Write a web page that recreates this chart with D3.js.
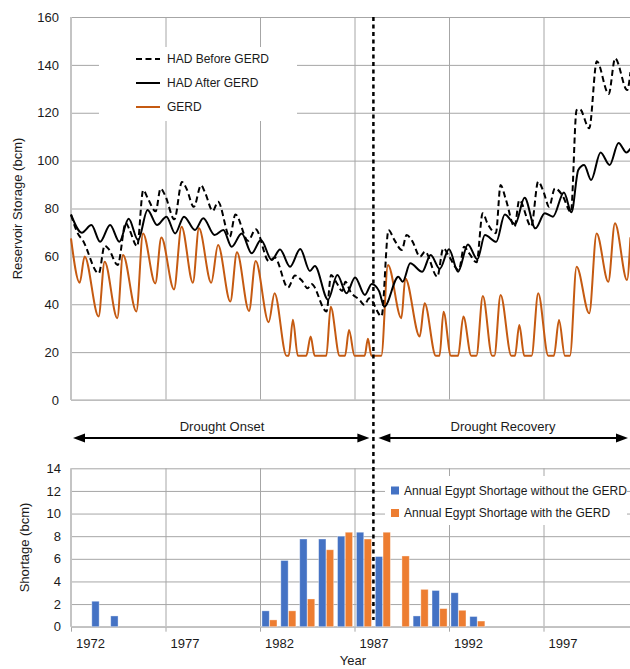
<!DOCTYPE html>
<html>
<head>
<meta charset="utf-8">
<script src="https://d3js.org/d3.v7.min.js"></script>
<style>
  body { margin: 0; background: #fff; }
  svg { display: block; font-family: "Liberation Sans", Arial, Helvetica, sans-serif; }
</style>
</head>
<body>
<svg id="chart" width="630" height="669"></svg>
<script>
// ---- data ----
const storageTicks = [0, 20, 40, 60, 80, 100, 120, 140, 160];
const shortageTicks = [0, 2, 4, 6, 8, 10, 12, 14];
const gridYears = [1976, 1981, 1986, 1991, 1996];
const labelYears = [1972, 1977, 1982, 1987, 1992, 1997];
const splitYear = 1987;

// [year, bcm]
const hadBefore = [[1971.0,77.3],[1971.4,69.0],[1971.6,67.0],[1972.47,52.9],[1972.78,64.5],[1973.0,63.0],
  [1973.47,56.4],[1973.9,74.0],[1974.1,71.0],[1974.5,64.2],[1974.82,87.7],[1975.05,84.5],[1975.48,78.8],
  [1975.74,88.3],[1975.98,85.5],[1976.47,75.5],[1976.87,91.1],[1977.1,88.5],[1977.5,80.7],[1977.88,89.7],
  [1978.1,86.5],[1978.5,79.0],[1978.78,82.8],[1979.4,68.2],[1979.7,77.5],[1980.37,66.5],[1980.77,71.3],
  [1981.47,58.0],[1981.78,59.5],[1982.48,47.0],[1982.85,52.0],[1983.2,50.0],[1983.52,46.7],[1983.72,48.5],
  [1984.52,37.0],[1984.76,52.2],[1985.05,49.0],[1985.35,45.5],[1985.52,49.4],[1985.78,45.3],[1986.27,41.8],
  [1986.52,39.7],[1986.78,42.5],[1987.43,35.0],[1987.8,71.0],[1988.1,67.0],[1988.5,62.7],[1988.76,68.9],
  [1989.05,66.5],[1989.47,59.9],[1989.73,62.0],[1990.38,51.5],[1990.7,63.4],[1991.0,60.0],[1991.52,54.3],
  [1991.8,64.0],[1992.05,61.5],[1992.46,57.5],[1992.78,78.0],[1993.05,73.5],[1993.48,69.7],[1993.73,89.8],
  [1994.0,84.0],[1994.47,72.4],[1994.72,83.5],[1995.35,72.5],[1995.72,91.2],[1996.0,87.0],[1996.3,80.7],
  [1996.6,88.4],[1997.0,85.5],[1997.45,78.5],[1997.75,121.1],[1997.92,121.5],[1998.42,113.5],[1998.82,141.5],
  [1999.45,127.8],[1999.79,142.7],[2000.43,129.5],[2000.6,137.0]];

const hadAfter = [[1971.0,77.5],[1971.57,69.9],[1972.08,73.1],[1972.54,66.1],[1973.07,73.1],[1973.56,66.1],
  [1974.05,75.7],[1974.55,66.8],[1975.05,79.4],[1975.55,73.1],[1976.05,76.6],[1976.51,69.6],[1976.98,76.6],
  [1977.56,71.0],[1978.0,75.9],[1978.6,68.9],[1979.06,71.0],[1979.5,64.0],[1980.03,69.6],[1980.56,61.3],
  [1981.05,66.8],[1981.62,58.5],[1982.06,62.9],[1982.59,55.7],[1983.13,63.1],[1983.64,53.9],[1983.9,56.0],
  [1984.6,41.9],[1985.09,52.2],[1985.58,44.6],[1986.03,51.2],[1986.55,43.9],[1986.91,48.5],[1987.3,45.5],
  [1987.58,39.0],[1988.32,51.5],[1988.55,49.4],[1988.95,57.1],[1989.58,53.6],[1990.03,60.6],[1990.51,54.8],
  [1991.0,63.0],[1991.48,53.6],[1992.0,65.0],[1992.5,58.8],[1992.9,68.9],[1993.5,66.1],[1993.95,77.5],
  [1994.5,73.5],[1995.0,84.5],[1995.57,71.7],[1996.07,78.0],[1996.5,76.6],[1997.08,86.7],[1997.48,78.4],
  [1997.84,96.1],[1998.15,98.2],[1998.52,91.9],[1999.02,103.4],[1999.5,98.2],[1999.97,107.4],[2000.39,103.4],
  [2000.6,105.0]];

const gerd = [[1971.0,67.5],[1971.46,49.0],[1971.72,60.0],[1972.46,34.9],[1972.78,57.8],[1973.45,34.2],
  [1973.75,60.6],[1974.46,37.0],[1974.81,69.6],[1975.46,48.7],[1975.78,67.9],[1976.45,46.2],[1976.85,72.4],
  [1977.45,49.0],[1977.77,71.7],[1978.42,49.0],[1978.78,64.7],[1979.43,41.1],[1979.78,61.7],[1980.42,37.2],
  [1980.77,58.1],[1981.46,32.5],[1981.77,44.6],[1982.4,18.5],[1982.52,18.5],[1982.74,33.5],[1983.0,18.5],
  [1983.45,18.5],[1983.68,26.5],[1983.89,18.5],[1984.51,18.5],[1984.74,39.0],[1985.21,18.5],[1985.5,18.5],
  [1985.71,29.2],[1986.0,18.5],[1986.54,18.5],[1986.71,25.6],[1986.89,18.5],[1987.42,18.5],[1987.77,56.4],
  [1988.48,34.2],[1988.69,50.8],[1989.45,26.5],[1989.71,40.4],[1990.3,18.5],[1990.5,18.5],[1990.71,36.9],
  [1991.1,18.5],[1991.48,18.5],[1991.76,34.9],[1992.18,18.5],[1992.45,18.5],[1992.79,43.4],[1993.28,18.5],
  [1993.4,18.5],[1993.73,43.9],[1994.3,18.5],[1994.49,18.5],[1994.72,31.3],[1994.98,18.5],[1995.37,18.5],
  [1995.72,44.6],[1996.25,18.5],[1996.55,18.5],[1996.82,33.4],[1997.13,18.5],[1997.4,18.5],[1997.75,55.7],
  [1998.42,36.2],[1998.81,69.6],[1999.43,49.4],[1999.78,73.8],[2000.42,50.1],[2000.6,68.0]];

const shortYears = [1972, 1973, 1981, 1982, 1983, 1984, 1985, 1986, 1987, 1988, 1989, 1990, 1991, 1992];
const shortWithout = [2.25, 0.95, 1.4, 5.85, 7.75, 7.75, 8.0, 8.35, 6.2, 0, 0.95, 3.2, 3.0, 0.9];
const shortWith    = [0, 0, 0.6, 1.4, 2.45, 6.8, 8.35, 7.75, 8.35, 6.25, 3.3, 1.6, 1.45, 0.5];

// ---- layout ----
const svg = d3.select('#chart');
const left = 71, right = 638;
const topY0 = 17, topY1 = 400;
const botY0 = 468.3, botY1 = 626.7;
const gridColor = '#a6a6a6', axisColor = '#c4c4c4';
const orangeLine = '#c55a11';

const x = d3.scaleLinear().domain([1971, 2001]).range([left, right]);
const yTop = d3.scaleLinear().domain([0, 160]).range([topY1, topY0]);
const yBot = d3.scaleLinear().domain([0, 14]).range([botY1, botY0]);

function styleAxis(g, fontSize) {
  g.select('.domain').remove();
  g.selectAll('line').attr('stroke', gridColor).attr('stroke-width', 1);
  g.selectAll('text').attr('fill', '#1a1a1a').style('font-size', fontSize + 'px')
    .style('font-family', '"Liberation Sans", Arial, sans-serif');
}

// ---- top panel ----
const topG = svg.append('g');
topG.append('g')
  .attr('transform', `translate(${left},0)`)
  .call(d3.axisLeft(yTop).tickValues(storageTicks).tickSize(-(right - left)).tickPadding(12))
  .call(g => styleAxis(g, 13));
topG.append('g')
  .attr('transform', `translate(0,${topY1})`)
  .call(d3.axisBottom(x).tickValues(gridYears).tickSize(-(topY1 - topY0)).tickFormat(''))
  .call(g => styleAxis(g, 13));
topG.append('line').attr('x1', left).attr('x2', left).attr('y1', topY0).attr('y2', topY1)
  .attr('stroke', axisColor).attr('stroke-width', 2);
topG.append('line').attr('x1', left).attr('x2', right).attr('y1', topY1).attr('y2', topY1)
  .attr('stroke', axisColor).attr('stroke-width', 1.5);

// legend box (white, hides grid)
const leg = topG.append('g');
leg.append('rect').attr('x', 99).attr('y', 47).attr('width', 198).attr('height', 74).attr('fill', '#fff');

const line = d3.line().x(d => x(d[0])).y(d => yTop(d[1])).curve(d3.curveMonotoneX);
const series = [
  { name: 'HAD Before GERD', data: hadBefore, color: '#000', dash: '6,3.5' },
  { name: 'HAD After GERD', data: hadAfter, color: '#000', dash: null },
  { name: 'GERD', data: gerd, color: orangeLine, dash: null }
];
// draw order: gerd, after, before
[series[2], series[1], series[0]].forEach(s => {
  topG.append('path').datum(s.data)
    .attr('d', line)
    .attr('fill', 'none')
    .attr('stroke', s.color)
    .attr('stroke-width', 2)
    .attr('stroke-linejoin', 'round')
    .attr('stroke-dasharray', s.dash);
});

series.forEach((s, i) => {
  const yy = 59 + i * 24;
  leg.append('line').attr('x1', 136).attr('x2', 160).attr('y1', yy).attr('y2', yy)
    .attr('stroke', s.color).attr('stroke-width', 2).attr('stroke-dasharray', s.dash);
  leg.append('text').attr('x', 167).attr('y', yy + 4.3).text(s.name)
    .attr('fill', '#1a1a1a').style('font-size', '12px');
});

svg.append('text')
  .attr('transform', `translate(22,${(topY0 + topY1) / 2}) rotate(-90)`)
  .attr('text-anchor', 'middle').style('font-size', '13px').attr('fill', '#1a1a1a')
  .text('Reservoir Storage (bcm)');

// ---- arrows ----
const arrowY = 438;
function arrowHead(xTip, dir) {
  const L = 12, H = 4.5;
  return `M${xTip},${arrowY} L${xTip - dir * L},${arrowY - H} L${xTip - dir * L},${arrowY + H} Z`;
}
const aG = svg.append('g');
[[x(1971) + 2, x(splitYear) - 4], [x(splitYear) + 5, 628]].forEach(([a, b]) => {
  aG.append('line').attr('x1', a + 6).attr('x2', b - 6).attr('y1', arrowY).attr('y2', arrowY)
    .attr('stroke', '#000').attr('stroke-width', 2);
  aG.append('path').attr('d', arrowHead(a, -1)).attr('fill', '#000');
  aG.append('path').attr('d', arrowHead(b, 1)).attr('fill', '#000');
});
aG.append('text').attr('x', 222).attr('y', 431).attr('text-anchor', 'middle')
  .style('font-size', '13px').attr('fill', '#1a1a1a').text('Drought Onset');
aG.append('text').attr('x', 503).attr('y', 431).attr('text-anchor', 'middle')
  .style('font-size', '13px').attr('fill', '#1a1a1a').text('Drought Recovery');

// ---- bottom panel ----
const botG = svg.append('g');
botG.append('g')
  .attr('transform', `translate(${left},0)`)
  .call(d3.axisLeft(yBot).tickValues(shortageTicks).tickSize(-(right - left)).tickPadding(10))
  .call(g => styleAxis(g, 13));
botG.append('g')
  .attr('transform', `translate(0,${botY1})`)
  .call(d3.axisBottom(x).tickValues(gridYears).tickSize(-(botY1 - botY0)).tickFormat(''))
  .call(g => styleAxis(g, 13));
// small tick marks below the axis
botG.append('g')
  .attr('transform', `translate(0,${botY1})`)
  .call(d3.axisBottom(x).tickValues([1971].concat(gridYears)).tickSize(5).tickFormat(''))
  .call(g => styleAxis(g, 13));
botG.append('g')
  .attr('transform', `translate(0,${botY1})`)
  .call(d3.axisBottom(x).tickValues(labelYears).tickSize(0).tickPadding(12).tickFormat(d3.format('d')))
  .call(g => styleAxis(g, 13));
botG.append('line').attr('x1', left).attr('x2', left).attr('y1', botY0).attr('y2', botY1)
  .attr('stroke', axisColor).attr('stroke-width', 2);
botG.append('line').attr('x1', left).attr('x2', right).attr('y1', botY1).attr('y2', botY1)
  .attr('stroke', axisColor).attr('stroke-width', 1.5);

const sub = d3.scaleBand().domain(['without', 'with'])
  .range([0, x(1972) - x(1971)]).paddingInner(0.05).paddingOuter(0.25);
const barData = [];
shortYears.forEach((yr, i) => {
  barData.push({ yr, key: 'without', v: shortWithout[i] });
  barData.push({ yr, key: 'with', v: shortWith[i] });
});
const barColor = { without: '#4472c4', with: '#ed7d31' };
botG.selectAll('rect.bar').data(barData.filter(d => d.v > 0)).enter().append('rect')
  .attr('class', 'bar')
  .attr('x', d => x(d.yr) + sub(d.key))
  .attr('width', sub.bandwidth())
  .attr('y', d => yBot(d.v))
  .attr('height', d => yBot(0) - yBot(d.v))
  .attr('fill', d => barColor[d.key])
  .attr('stroke', '#fff').attr('stroke-opacity', 0.45).attr('stroke-width', 0.8);

// bottom legend
const leg2 = botG.append('g');
leg2.append('rect').attr('x', 385).attr('y', 476).attr('width', 242).attr('height', 49).attr('fill', '#fff');
[['without', 'Annual Egypt Shortage without the GERD'], ['with', 'Annual Egypt Shortage with the GERD']]
  .forEach(([k, label], i) => {
    const yy = 490.5 + i * 22.5;
    leg2.append('rect').attr('x', 391).attr('y', yy - 4).attr('width', 8).attr('height', 8).attr('fill', barColor[k]);
    leg2.append('text').attr('x', 404).attr('y', yy + 4.3).text(label)
      .attr('fill', '#1a1a1a').style('font-size', '12px');
  });

svg.append('text')
  .attr('transform', `translate(29,${(botY0 + botY1) / 2}) rotate(-90)`)
  .attr('text-anchor', 'middle').style('font-size', '13px').attr('fill', '#1a1a1a')
  .text('Shortage (bcm)');
svg.append('text').attr('x', 353).attr('y', 665).attr('text-anchor', 'middle')
  .style('font-size', '13px').attr('fill', '#1a1a1a').text('Year');

// ---- split line ----
svg.append('line')
  .attr('x1', x(splitYear)).attr('x2', x(splitYear))
  .attr('y1', topY0).attr('y2', 620)
  .attr('stroke', '#000').attr('stroke-width', 2.5).attr('stroke-dasharray', '4,3.5');
</script>
</body>
</html>
